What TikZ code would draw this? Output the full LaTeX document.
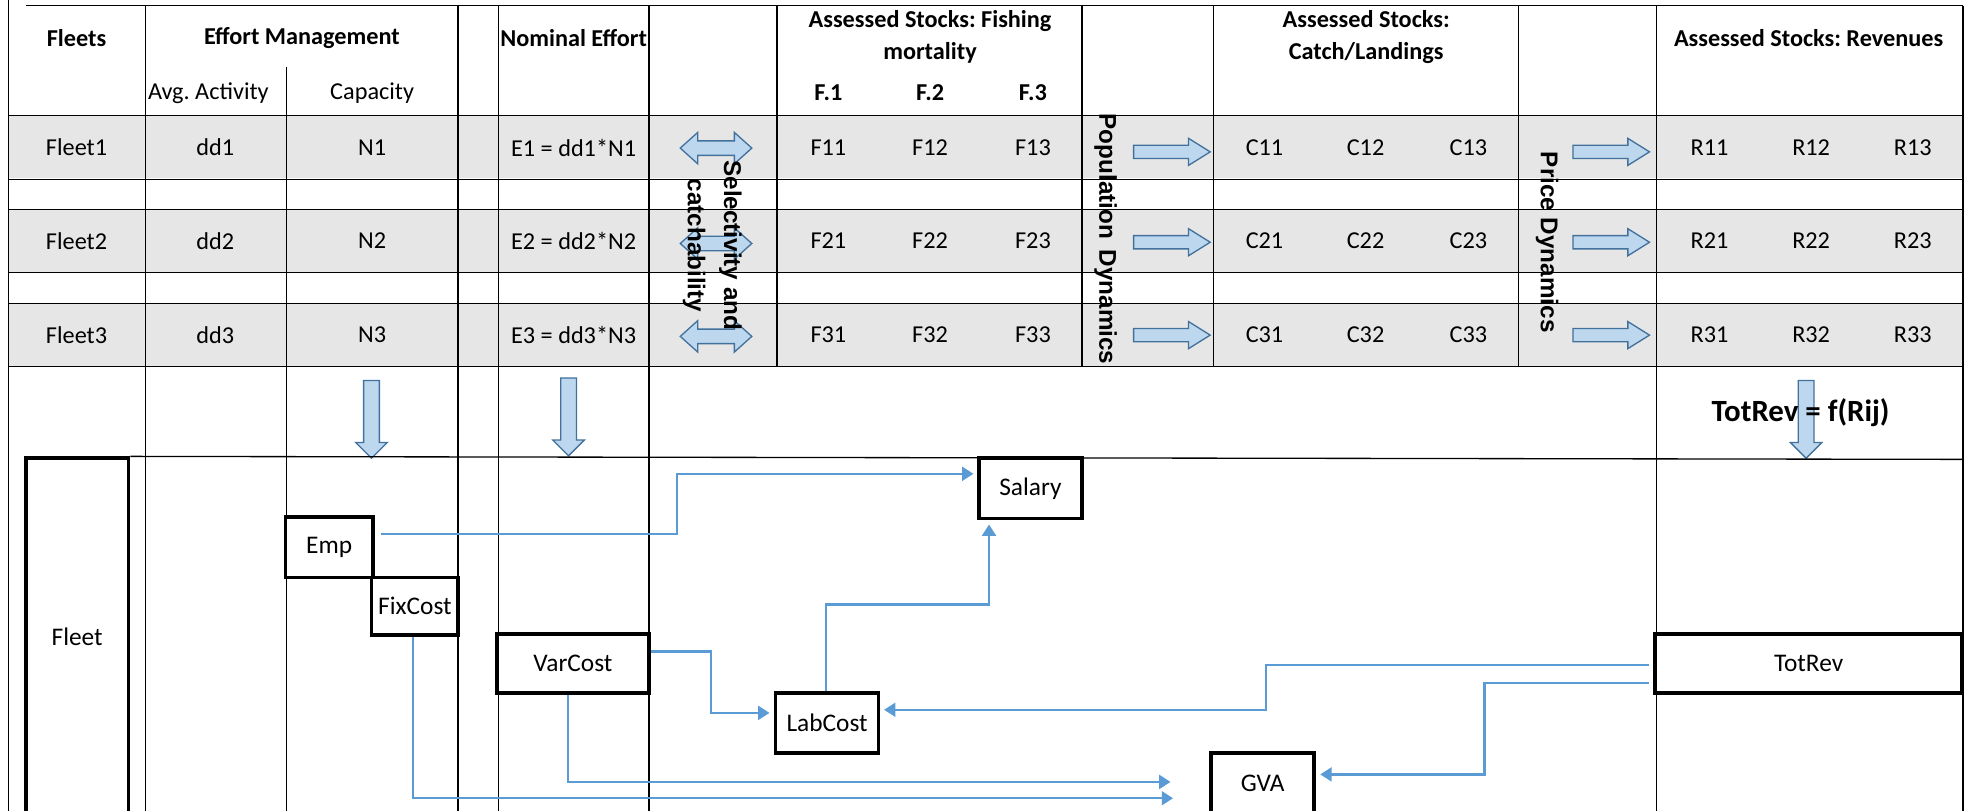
\documentclass[tikz,border=0pt]{standalone}
\usepackage{fontspec}
\setmainfont{Carlito}
\newfontfamily\arialfont{Liberation Sans}
\usetikzlibrary{positioning, shapes.arrows, arrows.meta}
\frenchspacing

\definecolor{rowgray}{RGB}{231,230,230}
\definecolor{arrowfill}{RGB}{189,215,238}
\definecolor{arrowedge}{RGB}{65,113,156}
\definecolor{flowblue}{RGB}{91,155,213}

\begin{document}
\begin{tikzpicture}[
    x=0.02cm, y=-0.02cm,
    % ====================
    % NODE STYLES
    % ====================
    cell/.style={
        inner sep=0pt, font=\fontsize{11pt}{13pt}\selectfont
    },
    hdr/.style={
        inner sep=0pt, align=center,
        font=\fontsize{11pt}{14.5pt}\selectfont\bfseries
    },
    grid/.style={
        line width=0.6pt, draw=black
    },
    box/.style={
        rectangle, draw=black, line width=1.6pt, fill=white,
        inner sep=0pt, font=\fontsize{11.5pt}{13pt}\selectfont
    },
    rarrow/.style={
        single arrow, draw=arrowedge, fill=arrowfill, line width=0.6pt,
        inner xsep=0pt, inner ysep=0.095cm, minimum height=1.22cm,
        single arrow head extend=0.11cm, single arrow tip angle=64
    },
    darrow/.style={
        double arrow, draw=arrowedge, fill=arrowfill, line width=0.6pt,
        inner xsep=0pt, inner ysep=0.105cm, minimum height=1.14cm,
        double arrow head extend=0.135cm, double arrow tip angle=84
    },
    downarrow/.style={
        single arrow, draw=arrowedge, fill=arrowfill, line width=0.6pt,
        inner xsep=0pt, inner ysep=0.115cm, minimum height=1.24cm,
        single arrow head extend=0.125cm, rotate=-90
    },
    sidelabel/.style={
        inner sep=0pt, align=center, rotate=-90,
        font=\arialfont\fontsize{11pt}{16.5pt}\selectfont\bfseries
    },
    flow/.style={
        draw=flowblue, line width=1.1pt,
        -{Triangle[length=1.8mm, width=2.2mm]}
    }
]
\useasboundingbox (0,0) rectangle (1568,646);

% ====================
% TABLE BACKGROUND AND GRID
% ====================
\foreach \y in {92,167,242}
    \fill[rowgray] (7,\y) rectangle (1564,\y+50);

\draw[grid] (7,0) -- (7,646);
\draw[grid] (21,4.5) -- (1564,4.5);
\foreach \y in {92,143,167,217,242,292}
    \draw[grid] (7,\y) -- (1564,\y);
\foreach \x in {115.7,365,397,517,1320,1564}
    \draw[grid] (\x,4.5) -- (\x,646);
\foreach \x in {619,862,967,1210}
    \draw[grid] (\x,4.5) -- (\x,292);
\draw[grid] (228,53) -- (228,646);

% ====================
% HEADERS
% ====================
\node[hdr] (hFleets) at (61,30) {Fleets};
\node[hdr] (hEffort) at (240.5,30) {Effort Management};
\node[cell] (hAvg) at (166,74) {Avg. Activity};
\node[cell] (hCap) at (296.5,74) {Capacity};
\node[hdr] (hNominal) at (457,30) {Nominal Effort};
\node[hdr] (hFish) at (741,29.75) {Assessed Stocks: Fishing\\mortality};
\node[hdr] (hF1) at (660,74) {F.1};
\node[hdr] (hF2) at (741,74) {F.2};
\node[hdr] (hF3) at (823,74) {F.3};
\node[hdr] (hCatch) at (1088.5,29.75) {Assessed Stocks:\\Catch/Landings};
\node[hdr] (hRev) at (1441,30) {Assessed Stocks: Revenues};

% ====================
% FLEET ROWS
% ====================
\foreach \r/\y in {1/117.5, 2/192, 3/267} {
    \node[cell] (fleet\r) at (61,\y) {Fleet\r};
    \node[cell] (dd\r) at (171.5,\y) {dd\r};
    \node[cell] (n\r) at (296.5,\y) {N\r};
    \node[cell] (e\r) at (457,\y) {E\r{} = dd\r*N\r};
    \foreach \c/\x in {1/660, 2/741, 3/823}
        \node[cell] (f\r\c) at (\x,\y) {F\r\c};
    \foreach \c/\x in {1/1007.5, 2/1088, 3/1170}
        \node[cell] (c\r\c) at (\x,\y) {C\r\c};
    \foreach \c/\x in {1/1362, 2/1443, 3/1524}
        \node[cell] (r\r\c) at (\x,\y) {R\r\c};
}

% Block arrows between the column groups
\foreach \r/\y in {1/118, 2/194, 3/268}
    \node[darrow] (sel\r) at (570.5,\y) {};
\foreach \r/\y in {1/121, 2/193, 3/267} {
    \node[rarrow] (pop\r) at (929.5,\y) {};
    \node[rarrow] (price\r) at (1279.5,\y) {};
}

\node[sidelabel] (selLabel) at (567.5,195.5) {Selectivity and\\catchability};
\node[sidelabel] (popLabel) at (881,190.5) {Population\ \,Dynamics};
\node[sidelabel] (priceLabel) at (1232.6,193) {Price Dynamics};

% Down arrows into the lower part
\node[downarrow] (capDown) at (296,331) {};
\node[downarrow] (nomDown) at (453,329) {};
\node[downarrow] (revDown) at (1439,331) {};
\node[font=\fontsize{14pt}{16pt}\selectfont\bfseries, inner sep=0pt] (totRevEq) at (1434.6,329) {TotRev = f(Rij)};

% ====================
% ECONOMIC BOXES
% ====================
\node[box, minimum width=1.64cm, minimum height=5.68cm] (Fleet) at (61.5,507) {Fleet};
\draw[grid] (Fleet.north east) -- (1564,366);

\node[box, minimum width=1.39cm, minimum height=0.96cm] (Emp) at (262.3,436) {Emp};
\node[box, minimum width=1.38cm, minimum height=0.92cm] (FixCost) at (330.6,483) {FixCost};
\node[box, minimum width=2.42cm, minimum height=0.94cm] (VarCost) at (456.5,528.5) {VarCost};
\node[box, minimum width=1.64cm, minimum height=0.96cm] (Salary) at (821,389) {Salary};
\node[box, minimum width=1.64cm, minimum height=0.96cm] (LabCost) at (659,576) {LabCost};
\node[box, minimum width=1.64cm, minimum height=0.96cm] (GVA) at (1006,624) {GVA};
\node[box, minimum width=4.89cm, minimum height=0.94cm] (TotRev) at (1441,528.5) {TotRev};

% ====================
% FLOWS
% ====================
\draw[flow] ([xshift=1mm,yshift=2.1mm]Emp.east) -- ++(236,0) |- ([xshift=-0.6mm,yshift=2.3mm]Salary.west);
\draw[flow] ([xshift=-0.3mm]FixCost.south) |- ([xshift=-5.8mm,yshift=-2.4mm]GVA.west);
\draw[flow] ([xshift=-0.8mm]VarCost.south) |- ([xshift=-6.2mm,yshift=0.2mm]GVA.west);
\draw[flow] ([yshift=1.9mm]VarCost.east) -- ++(48,0) |- ([xshift=-0.7mm,yshift=1.6mm]LabCost.west);
\draw[flow] ([xshift=-0.2mm]LabCost.north) -- ++(0,-69) -| ([xshift=-6.6mm,yshift=-0.7mm]Salary.south);
\draw[flow] ([xshift=-0.7mm,yshift=-0.3mm]TotRev.west) -- ++(-305,0) |- ([xshift=0.6mm,yshift=2.1mm]LabCost.east);
\draw[flow] ([xshift=-0.7mm,yshift=-3.1mm]TotRev.west) -- ++(-131,0) |- ([xshift=0.7mm,yshift=1.4mm]GVA.east);

\end{tikzpicture}
\end{document}
